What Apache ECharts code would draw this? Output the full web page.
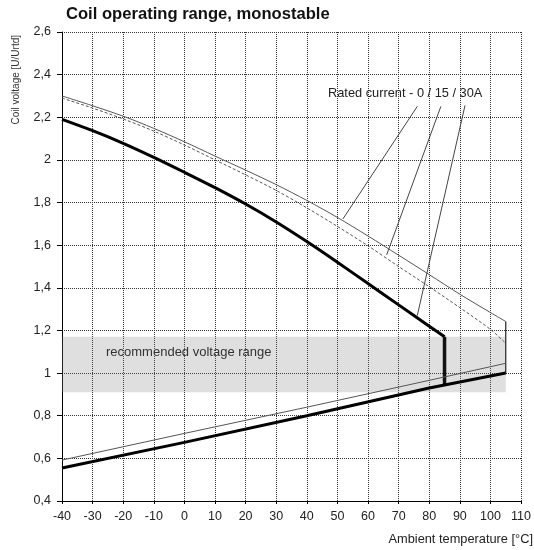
<!DOCTYPE html>
<html>
<head>
<meta charset="utf-8">
<script src="https://cdn.jsdelivr.net/npm/echarts@6/dist/echarts.min.js"></script>
<style>html,body{margin:0;padding:0;background:#fff}#c{width:534px;height:550px}</style>
</head>
<body>
<div id="c"></div>
<script>
// Data
const tempsUpper = [-40,-30,-20,-10,0,10,20,30,40,50,60,70,80,90,100,105];
const upper0A  = [2.30,2.254,2.205,2.148,2.085,2.018,1.952,1.884,1.81,1.73,1.643,1.553,1.462,1.37,1.284,1.242];
const upper15A = [2.29,2.243,2.192,2.135,2.07,2.0,1.93,1.857,1.775,1.688,1.597,1.50,1.405,1.307,1.205,1.14];
const vertical0A = [[105,1.242],[105,1.0]];
const tempsThick = [-40,-30,-20,-10,0,10,20,30,40,50,60,70,80,85];
const upper30A = [2.19,2.137,2.078,2.012,1.942,1.87,1.793,1.709,1.617,1.52,1.42,1.32,1.22,1.17];
const vertical30A = [[85,1.17],[85,0.94]];
const tempsLower = [-40,0,40,80,105];
const lowerThin  = [0.592,0.717,0.84,0.966,1.046];
const lowerThick = [0.555,0.675,0.80,0.93,1.0];
const leader0A  = [[76.1,2.251],[51.8,1.723]];
const leader15A = [[83.8,2.251],[66.1,1.555]];
const leader30A = [[91.7,2.256],[76.1,1.27]];
const bandY = [0.91, 1.17];
const bandX = [-40, 105];
const xTicks = {min:-40, max:110, interval:10};
const yTicks = {min:0.4, max:2.6, interval:0.2};

const zip = (xs, ys) => xs.map((x,i)=>[x, ys[i]]);
const font = 'Liberation Sans, Arial, sans-serif';

const chart = echarts.init(document.getElementById('c'), null, {renderer:'canvas'});
const lineBase = {type:'line', showSymbol:false, symbol:'none', silent:true, animation:false};
chart.setOption({
  animation:false,
  title:{text:'Coil operating range, monostable', left:66, top:6, padding:0,
    textStyle:{fontFamily:font, fontSize:16.6, fontWeight:'bold', color:'#111'}},
  grid:{left:62, right:9, top:32, bottom:49, containLabel:false},
  xAxis:{type:'value', min:xTicks.min, max:xTicks.max, interval:xTicks.interval,
    axisLine:{show:true, onZero:false, lineStyle:{color:'#000', width:1}},
    axisTick:{show:true, inside:false, length:3, lineStyle:{color:'#000'}},
    axisLabel:{fontFamily:font, fontSize:12.5, color:'#222', margin:9},
    splitLine:{show:true, lineStyle:{type:'dotted', color:'#333', width:1}}},
  yAxis:{type:'value', min:yTicks.min, max:yTicks.max, interval:yTicks.interval,
    axisLine:{show:true, onZero:false, lineStyle:{color:'#000', width:1}},
    axisTick:{show:true, inside:false, length:5, lineStyle:{color:'#000'}},
    axisLabel:{fontFamily:font, fontSize:12.5, color:'#222', margin:11,
      formatter:v=>String(+v.toFixed(1)).replace('.',',')},
    splitLine:{show:true, lineStyle:{type:'dotted', color:'#333', width:1}}},
  graphic:[
    {type:'text', left:11, top:35, rotation:Math.PI/2,
      style:{text:'Coil voltage [U/Urtd]', fontFamily:font, fontSize:10, fill:'#333'}},
    {type:'text', right:1, top:533,
      style:{text:'Ambient temperature [°C]', fontFamily:font, fontSize:12.8, fill:'#222'}},
    {type:'text', left:106, top:346, z:100,
      style:{text:'recommended voltage range', fontFamily:font, fontSize:13, fill:'#333'}},
    {type:'text', left:328, top:87, z:100,
      style:{text:'Rated current - 0 / 15 / 30A', fontFamily:font, fontSize:12.8, fill:'#222'}}
  ],
  series:[
    Object.assign({}, lineBase, {name:'band', data:[], markArea:{silent:true,
      itemStyle:{color:'rgba(128,128,128,0.25)'},
      data:[[{xAxis:bandX[0], yAxis:bandY[0]},{xAxis:bandX[1], yAxis:bandY[1]}]]}}),
    Object.assign({}, lineBase, {name:'0A', data:zip(tempsUpper, upper0A), smooth:0.3, lineStyle:{color:'#555', width:1}}),
    Object.assign({}, lineBase, {name:'0Av', data:vertical0A, lineStyle:{color:'#333', width:1.3}}),
    Object.assign({}, lineBase, {name:'15A', data:zip(tempsUpper, upper15A), smooth:0.3, lineStyle:{color:'#555', width:1, type:[3,2]}}),
    Object.assign({}, lineBase, {name:'30A', data:zip(tempsThick, upper30A), smooth:0.3, lineStyle:{color:'#000', width:3}}),
    Object.assign({}, lineBase, {name:'30Av', data:vertical30A, lineStyle:{color:'#111', width:3.5}}),
    Object.assign({}, lineBase, {name:'lowThin', data:zip(tempsLower, lowerThin), lineStyle:{color:'#555', width:1}}),
    Object.assign({}, lineBase, {name:'lowThick', data:zip(tempsLower, lowerThick), lineStyle:{color:'#000', width:3}}),
    Object.assign({}, lineBase, {name:'l0', data:leader0A, lineStyle:{color:'#444', width:1}}),
    Object.assign({}, lineBase, {name:'l15', data:leader15A, lineStyle:{color:'#444', width:1}}),
    Object.assign({}, lineBase, {name:'l30', data:leader30A, lineStyle:{color:'#444', width:1}})
  ]
});
</script>
</body>
</html>
